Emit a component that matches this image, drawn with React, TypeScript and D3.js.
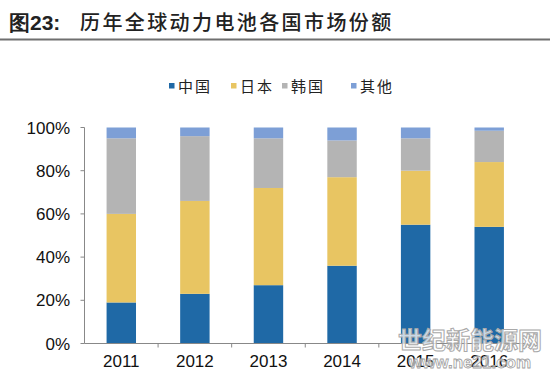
import React from "react";
import * as d3 from "d3";

const years = ["2011", "2012", "2013", "2014", "2015", "2016"];
const seriesNames = ["中国", "日本", "韩国", "其他"];
const china = [19, 23, 27, 36, 55, 54];
const japan = [41, 43, 45, 41, 25, 30];
const korea = [35, 30, 23, 17, 15, 14.5];
const others = [5, 4, 5, 6, 5, 1.5];
const colors = ["#1f69a6", "#e8c562", "#b4b4b4", "#7d9fd6"];
const yTicks = [0, 20, 40, 60, 80, 100];

const W = 550;
const H = 377;
const left = 84.5;
const right = 526;
const top = 127.5;
const bottom = 343.5;

export default function App() {
  const rows = years.map((y, i) => ({
    year: y,
    中国: china[i],
    日本: japan[i],
    韩国: korea[i],
    其他: others[i],
  }));
  const stack = d3.stack<any>().keys(seriesNames)(rows);
  const x = d3.scaleBand().domain(years).range([left, right]).paddingInner(0.6).paddingOuter(0.3);
  const xb = d3.scaleBand().domain(years).range([left, right]);
  const y = d3.scaleLinear().domain([0, 100]).range([bottom, top]);
  const font = "Arial, 'Liberation Sans', sans-serif";
  const cjk = "'Noto Sans CJK SC', sans-serif";
  const legendX = [169, 231, 282, 351];

  return (
    <svg width={W} height={H} style={{ position: "absolute", left: 0, top: 0, background: "#fff" }}>
      <rect width={W} height={H} fill="#fff" />
      <text x={9} y={30} fontFamily={font} fontWeight="bold" fontSize={21} fill="#222">
        图23:
      </text>
      <text x={80} y={30} fontFamily={cjk} fontWeight={500} fontSize={20} fill="#222" letterSpacing={2.4}>
        历年全球动力电池各国市场份额
      </text>
      <line x1={0} x2={W} y1={39.5} y2={39.5} stroke="#6f6f6f" strokeWidth={2} />

      {seriesNames.map((s, i) => (
        <g key={s}>
          <rect x={legendX[i]} y={83} width={5.5} height={5.5} fill={colors[i]} />
          <text x={legendX[i] + 9} y={91.5} fontFamily={cjk} fontSize={15} fill="#222" letterSpacing={2}>
            {s}
          </text>
        </g>
      ))}

      {stack.map((layer, si) => (
        <g key={layer.key} fill={colors[si]}>
          {layer.map((d, i) => (
            <rect
              key={i}
              x={x(years[i])}
              width={x.bandwidth()}
              y={y(d[1])}
              height={y(d[0]) - y(d[1])}
            />
          ))}
        </g>
      ))}

      <line x1={left} x2={left} y1={top} y2={bottom} stroke="#888" />
      <line x1={left} x2={right} y1={bottom} y2={bottom} stroke="#888" />
      {yTicks.map((t) => (
        <g key={t}>
          <line x1={left - 4} x2={left} y1={y(t)} y2={y(t)} stroke="#888" />
          <text x={70} y={y(t) + 6} textAnchor="end" fontFamily={font} fontSize={17} fill="#111">
            {t}%
          </text>
        </g>
      ))}
      {years.map((yr, i) => (
        <g key={yr}>
          <line x1={(xb(yr) as number) + xb.bandwidth()} x2={(xb(yr) as number) + xb.bandwidth()} y1={bottom} y2={bottom + 4} stroke="#888" />
          <text x={(xb(yr) as number) + xb.bandwidth() / 2} y={367} textAnchor="middle" fontFamily={font} fontSize={17} fill="#111">
            {yr}
          </text>
        </g>
      ))}

      <text x={470} y={349} textAnchor="middle" fontFamily={cjk} fontWeight="bold" fontSize={24} fill="rgba(255,255,255,0.75)" stroke="#a9a9a9" strokeWidth={1}>
        世纪新能源网
      </text>
      <text x={470} y={368} textAnchor="middle" fontFamily={font} fontWeight="bold" fontSize={17} fill="rgba(255,255,255,0.6)" stroke="#a0a0a0" strokeWidth={0.8}>
        www.ne21.com
      </text>
    </svg>
  );
}
